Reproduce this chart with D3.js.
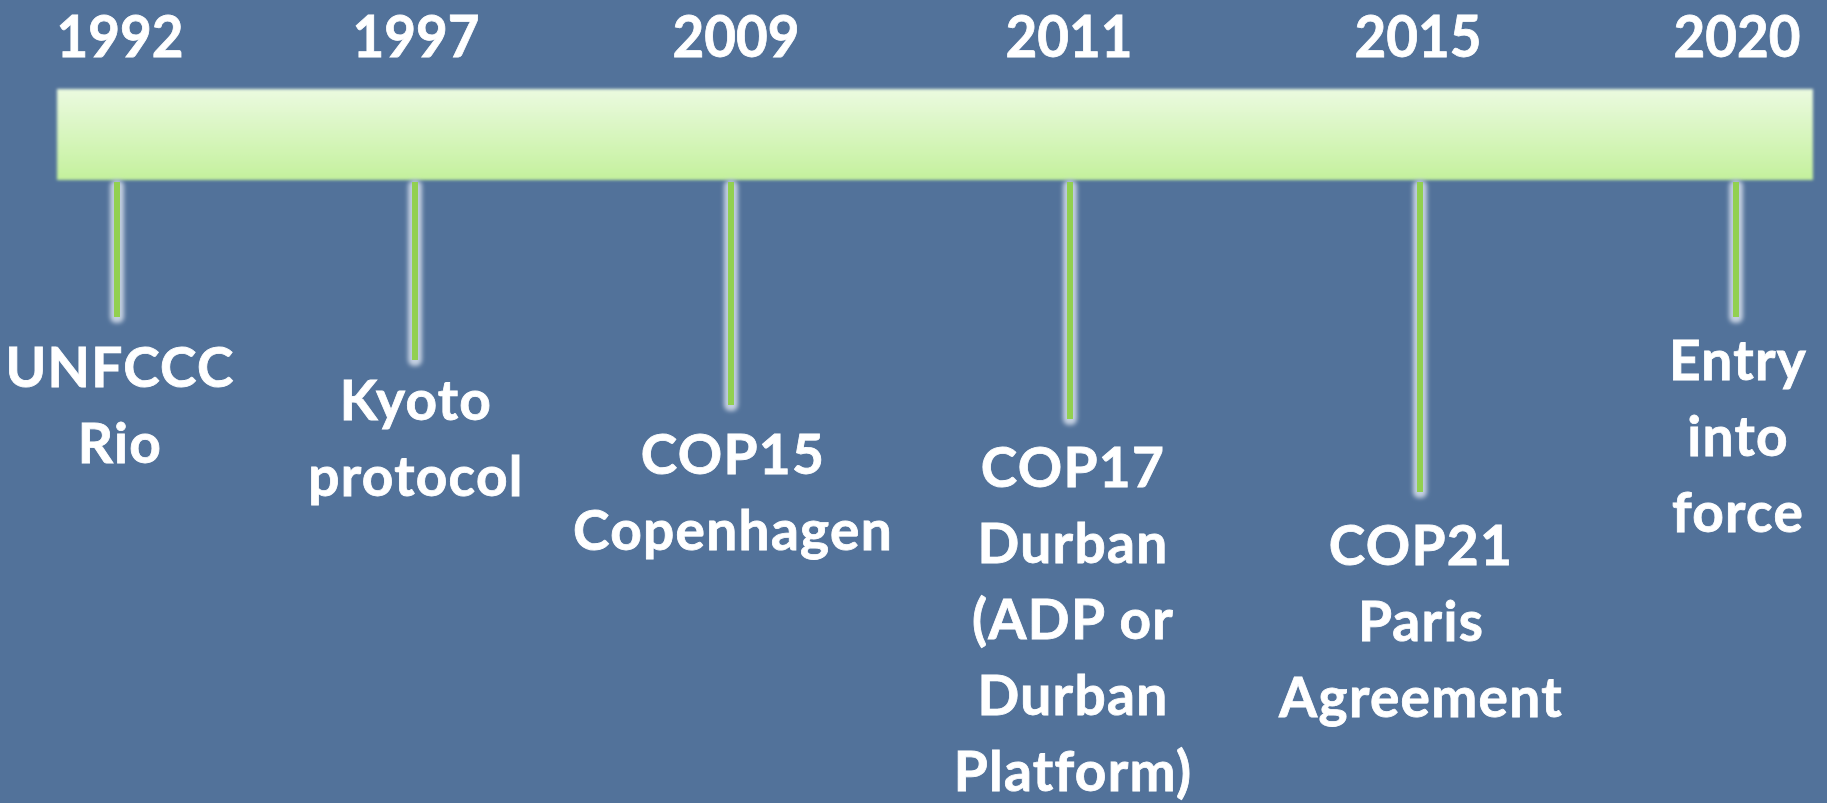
<!DOCTYPE html>
<html>
<head>
<meta charset="utf-8">
<script src="https://cdn.jsdelivr.net/npm/d3@7"></script>
<style>
  html, body { margin: 0; padding: 0; background: #52729a; }
  svg { display: block; }
</style>
</head>
<body>
<svg id="chart" width="1827" height="803"></svg>
<script>
// ---- data ----
const years = ["1992", "1997", "2009", "2011", "2015", "2020"];
const eventLines = [
  ["UNFCCC", "Rio"],
  ["Kyoto", "protocol"],
  ["COP15", "Copenhagen"],
  ["COP17", "Durban", "(ADP or", "Durban", "Platform)"],
  ["COP21", "Paris", "Agreement"],
  ["Entry", "into", "force"]
];

// ---- layout (positions, not data) ----
const W = 1827, H = 803;
const stemX = [117, 415, 731, 1070, 1420, 1736];
const yearX = [120, 416, 736, 1069, 1418, 1737];
const labelX = [120, 416, 733, 1073, 1421, 1738];
const stemEnd = [317, 360, 405, 419, 492, 317];
const labelTop = [387, 420, 474, 487, 565, 380];
const yearBase = [57, 57, 57, 57, 57, 57];
const lineH = 76;
const barTop = 89, barBottom = 180, barLeft = 57, barRight = 1813;

const xStem = d3.scaleOrdinal().domain(years).range(stemX);
const xYear = d3.scaleOrdinal().domain(years).range(yearX);
const xLabel = d3.scaleOrdinal().domain(years).range(labelX);

const svg = d3.select("#chart");
const defs = svg.append("defs");

const grad = defs.append("linearGradient").attr("id", "barGrad")
  .attr("x1", 0).attr("y1", 0).attr("x2", 0).attr("y2", 1);
grad.append("stop").attr("offset", "0%").attr("stop-color", "#ebfae0");
grad.append("stop").attr("offset", "100%").attr("stop-color", "#c4f19c");

const soft = defs.append("filter").attr("id", "soft")
  .attr("x", "-5%").attr("y", "-20%").attr("width", "110%").attr("height", "140%");
soft.append("feGaussianBlur").attr("stdDeviation", 1.6);

const glow = defs.append("filter").attr("id", "glow")
  .attr("x", "-100%").attr("y", "-10%").attr("width", "300%").attr("height", "120%");
glow.append("feGaussianBlur").attr("stdDeviation", 2.0);

svg.append("rect").attr("width", W).attr("height", H).attr("fill", "#52729a");

// bar
svg.append("rect")
  .attr("x", barLeft).attr("y", barTop)
  .attr("width", barRight - barLeft).attr("height", barBottom - barTop)
  .attr("fill", "url(#barGrad)")
  .attr("filter", "url(#soft)");

// stems
const stems = svg.append("g").selectAll("g").data(years).join("g");
stems.append("rect")
  .attr("x", d => xStem(d) - 7).attr("width", 14)
  .attr("y", barBottom).attr("height", (d, i) => stemEnd[i] + 6 - barBottom)
  .attr("rx", 6)
  .attr("fill", "#c3cfe0")
  .attr("filter", "url(#glow)");
stems.append("rect")
  .attr("x", d => xStem(d) - 3).attr("width", 6)
  .attr("y", barBottom + 2).attr("height", (d, i) => stemEnd[i] - barBottom - 2)
  .attr("fill", "#92d050");

const font = "Lato, 'Open Sans', sans-serif";

// year labels
svg.append("g").selectAll("text").data(years).join("text")
  .attr("transform", (d, i) => `translate(${xYear(d)},${yearBase[i]}) scale(0.96,1)`)
  .attr("text-anchor", "middle")
  .attr("font-family", font).attr("font-weight", 700)
  .attr("font-size", 57)
  .attr("fill", "#ffffff").attr("stroke", "#ffffff").attr("stroke-width", 0.8)
  .text(d => d);

// event labels
const lab = svg.append("g").selectAll("g").data(years).join("g")
  .attr("transform", (d, i) => `translate(${xLabel(d)},${labelTop[i]})`);
lab.selectAll("text").data((d, i) => eventLines[i]).join("text")
  .attr("y", (d, j) => j * lineH)
  .attr("text-anchor", "middle")
  .attr("font-family", font).attr("font-weight", 700)
  .attr("font-size", 55)
  .attr("letter-spacing", "1.3px")
  .attr("fill", "#ffffff").attr("stroke", "#ffffff").attr("stroke-width", 0.8)
  .text(d => d);
</script>
</body>
</html>
